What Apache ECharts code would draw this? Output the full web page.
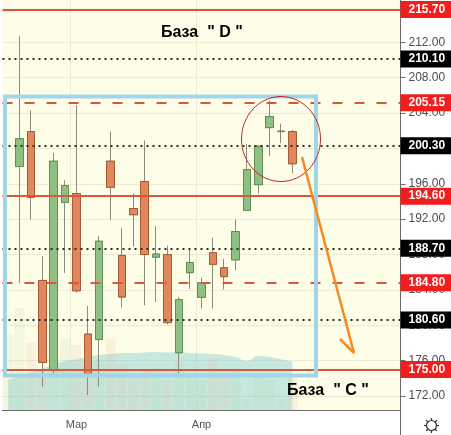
<!DOCTYPE html>
<html>
<head>
<meta charset="utf-8">
<script src="https://cdn.jsdelivr.net/npm/echarts@6/dist/echarts.min.js"></script>
<style>
  html, body { margin: 0; padding: 0; background: #fff; }
  #chart { width: 451px; height: 435px; }
</style>
</head>
<body>
<div id="chart"></div>
<script>
// категории (свечи), подписи только у начала месяца
const categories = [
  '', '', '', '', '', '', 'Мар', '', '', '', '', '', '', '', '', '', '', 'Апр',
  '', '', '', '', '', '', '', '', '', '', '', '', '', '', '', '', ''
];

// [open, close, low, high]
const ohlc = [
  '-',
  [197.95, 201.10, 184.77, 212.70],
  [201.90, 194.45, 191.97, 204.30],
  [185.07, 175.80, 173.05, 187.80],
  [174.94, 198.55, 174.40, 199.50],
  [193.90, 195.80, 185.90, 196.40],
  [194.90, 183.90, 183.70, 204.90],
  [179.00, 174.45, 172.10, 182.20],
  [178.40, 189.50, 173.05, 190.10],
  [198.55, 195.60, 191.90, 201.90],
  [187.90, 183.20, 182.00, 191.00],
  [193.20, 192.50, 188.90, 194.90],
  [196.25, 188.00, 182.25, 200.90],
  [187.70, 188.05, 182.65, 191.20],
  [188.00, 180.30, 180.10, 189.00],
  [176.90, 182.90, 174.60, 183.20],
  [185.95, 187.10, 184.10, 188.60],
  [183.15, 184.80, 181.90, 185.40],
  [188.20, 186.90, 181.90, 189.90],
  [186.50, 185.50, 184.05, 187.50],
  [187.40, 190.60, 186.20, 192.00],
  [193.00, 197.60, 193.00, 200.50],
  [195.90, 200.25, 194.90, 200.30],
  [202.35, 203.60, 199.15, 205.40],
  [201.90, 201.95, 200.60, 202.80],
  [201.90, 198.26, 197.20, 202.10]
];

// объём и его средняя
const volumes = [58, 78, 52, 30, 40, 55, 50, 35, 38, 55, 35, 25, 30, 32, 23, 37, 28, 23, 40, 25, 31, 8, 25, 23, 8, 25];
const volumeAvg = [23, 26, 29, 32, 35, 37.7, 39, 41, 42.3, 43, 43.8, 43.8, 44.2, 44.6, 44.2, 44.6, 43.8, 43.4, 43, 42.3, 40.8, 37.7, 41.5, 40.8, 39, 37];

// уровни
const solidLevels = [215.70, 194.60, 175.00];
const dashedLevels = [205.15, 184.80];
const dottedLevels = [210.10, 200.30, 188.70, 180.60];
const lastPrice = 198.26;

// деления правой шкалы
const yTicks = [172, 176, 180, 184, 188, 192, 196, 200, 204, 208, 212];

const FONT = "'Liberation Sans', Arial, sans-serif";
const UP = '#8fc083', DOWN = '#e0875d';
const RED_LINE = '#d9573b';

const myChart = echarts.init(document.getElementById('chart'));

const isMonth = (i, v) => v !== '';

// тела свечей без теней
const bodies = ohlc.map(d => d === '-' ? '-' : [d[0], d[1], Math.min(d[0], d[1]), Math.max(d[0], d[1])]);

const lbl = (bg) => ({
  show: true,
  position: 'end',
  distance: 0,
  formatter: p => Number(p.value).toFixed(2),
  color: '#fff',
  backgroundColor: bg,
  padding: [2, 8, 2, 8],
  lineHeight: 13,
  fontSize: 12,
  fontWeight: 'bold',
  fontFamily: FONT
});

const levelLines = [].concat(
  solidLevels.map(v => ({ yAxis: v, lineStyle: { color: RED_LINE, width: 2, type: 'solid' }, label: lbl('#f21d1d') })),
  dashedLevels.map(v => ({ yAxis: v, lineStyle: { color: RED_LINE, width: 2, type: [10, 12] }, label: lbl('#f21d1d') })),
  dottedLevels.map(v => ({ yAxis: v, lineStyle: { color: '#2b2b2b', width: 2, type: [2, 4] }, label: lbl('#000') })),
  [{ yAxis: lastPrice, lineStyle: { opacity: 0 }, label: lbl('#d9604c') }]
);

// значок настроек
const gear = [{ type: 'circle', shape: { cx: 431.5, cy: 425.5, r: 5 }, style: { fill: 'none', stroke: '#333', lineWidth: 1.2 } }];
for (let k = 0; k < 8; k++) {
  const a = k * Math.PI / 4;
  gear.push({
    type: 'line',
    shape: { x1: 431.5 + Math.cos(a) * 5, y1: 425.5 + Math.sin(a) * 5, x2: 431.5 + Math.cos(a) * 7.5, y2: 425.5 + Math.sin(a) * 7.5 },
    style: { stroke: '#333', lineWidth: 1.2 }
  });
}

const option = {
  animation: false,
  backgroundColor: '#fff',
  grid: [
    { left: 2.5, width: 398, top: 0, height: 410, show: true, backgroundColor: '#fefde8', borderWidth: 0 },
    { left: 2.5, width: 398, top: 280, height: 130 }
  ],
  xAxis: [
    {
      type: 'category', data: categories, boundaryGap: true,
      axisLine: { lineStyle: { color: '#6b6b6b' } },
      axisTick: { alignWithLabel: true, interval: isMonth, length: 4, lineStyle: { color: '#6b6b6b' } },
      axisLabel: { interval: 0, color: '#555', fontSize: 11, margin: 9, fontFamily: FONT },
      splitLine: { show: true, interval: isMonth, lineStyle: { color: '#eeebd3' } }
    },
    { type: 'category', gridIndex: 1, data: categories, boundaryGap: true, show: false }
  ],
  yAxis: [
    {
      type: 'value', position: 'right', min: 170.42, max: 216.78,
      axisLine: { show: true, lineStyle: { color: '#6b6b6b' } },
      axisTick: { show: true, length: 5, customValues: yTicks, lineStyle: { color: '#6b6b6b' } },
      axisLabel: { customValues: yTicks, formatter: v => v.toFixed(2), color: '#4d4d4d', fontSize: 12, margin: 8, fontFamily: FONT },
      splitLine: { show: true, lineStyle: { color: '#eeebd3' } }
    },
    { type: 'value', gridIndex: 1, min: 0, max: 100, show: false }
  ],
  series: [
    {
      type: 'bar', xAxisIndex: 1, yAxisIndex: 1, z: 1, barWidth: 10,
      data: volumes.map((v, i) => ({
        value: v,
        itemStyle: { color: (ohlc[i] !== '-' && ohlc[i][1] < ohlc[i][0]) ? 'rgba(235,180,150,0.16)' : 'rgba(175,210,165,0.16)' }
      }))
    },
    {
      type: 'line', xAxisIndex: 1, yAxisIndex: 1, z: 1, smooth: true, symbol: 'none',
      lineStyle: { width: 0 }, areaStyle: { color: 'rgba(100,195,205,0.36)', opacity: 1 },
      data: volumeAvg
    },
    {
      type: 'line', z: 2, data: [], silent: true,
      markLine: { symbol: ['none', 'none'], silent: true, animation: false, data: levelLines }
    },
    {
      type: 'candlestick', z: 3, barWidth: 8, data: ohlc,
      itemStyle: { color: '#8c8c78', color0: '#8c8c78', borderColor: '#8c8c78', borderColor0: '#8c8c78', borderWidth: 1 }
    },
    {
      type: 'candlestick', z: 4, barWidth: 8, data: bodies,
      itemStyle: { color: UP, color0: DOWN, borderColor: '#5f8f55', borderColor0: '#a65a37', borderWidth: 1 }
    }
  ],
  graphic: [
    { type: 'rect', z: 50, shape: { x: 5, y: 96.5, width: 311, height: 279 }, style: { fill: 'none', stroke: '#a0d6e6', lineWidth: 4 } },
    { type: 'ellipse', z: 50, shape: { cx: 281, cy: 139, rx: 39.5, ry: 42.5 }, style: { fill: 'none', stroke: '#c0282d', lineWidth: 1 } },
    { type: 'line', z: 50, shape: { x1: 302, y1: 157, x2: 354, y2: 353 }, style: { stroke: '#f58a23', lineWidth: 2.5 } },
    { type: 'line', z: 50, shape: { x1: 340, y1: 339, x2: 354, y2: 353 }, style: { stroke: '#f58a23', lineWidth: 2.5 } },
    { type: 'text', z: 50, left: 161, top: 25, style: { text: 'База  " D "', fill: '#000', font: 'bold 16px ' + FONT } },
    { type: 'text', z: 50, left: 287, top: 383, style: { text: 'База  " C "', fill: '#000', font: 'bold 16px ' + FONT } },
    { type: 'line', z: 50, shape: { x1: 400.5, y1: 410, x2: 400.5, y2: 435 }, style: { stroke: '#6b6b6b', lineWidth: 1 } },
    { type: 'group', z: 50, children: gear }
  ]
};

myChart.setOption(option);
window.addEventListener('resize', () => { myChart.resize(); });
</script>
</body>
</html>
